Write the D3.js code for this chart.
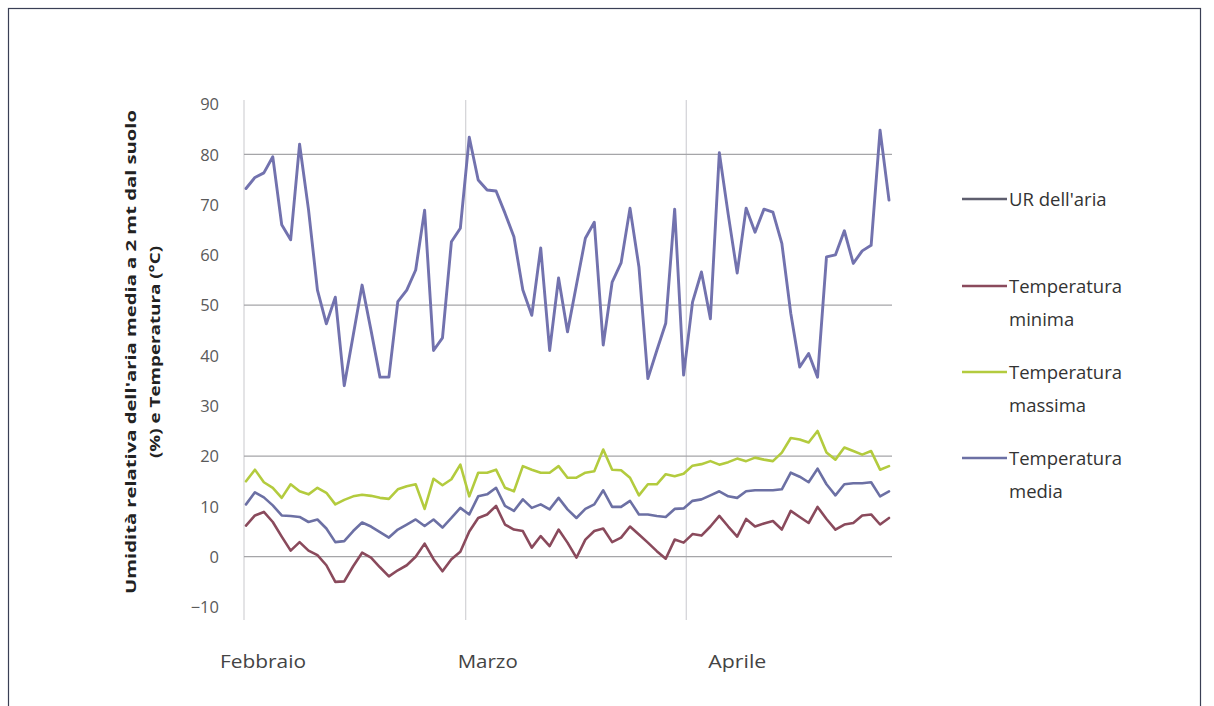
<!DOCTYPE html>
<html>
<head>
<meta charset="utf-8">
<script src="https://cdn.jsdelivr.net/npm/d3@7"></script>
<style>
  html, body { margin: 0; padding: 0; background: #fff; }
  svg { display: block; }
</style>
</head>
<body>
<svg id="chart" width="1214" height="706"></svg>
<script>
// Daily readings, one per observation
const urAria = [73.2,75.4,76.3,79.5,66,63,82,69,53,46.3,51.6,34,44,54,45,35.7,35.7,50.7,53,57,68.9,41,43.5,62.6,65.3,83.4,74.9,72.9,72.7,68.3,63.6,53,48,61.4,41,55.4,44.7,54,63.3,66.5,42.1,54.6,58.4,69.3,57.6,35.4,41,46.4,69.1,36.1,50.6,56.6,47.3,80.3,68,56.4,69.3,64.5,69.1,68.5,62.3,48.4,37.7,40.4,35.7,59.6,60,64.8,58.3,60.8,61.9,84.8,70.9];
const tempMin = [6.2,8.2,8.9,6.9,4,1.2,2.9,1.2,0.3,-1.7,-5,-4.9,-1.9,0.8,-0.2,-2.1,-3.9,-2.7,-1.7,0,2.6,-0.5,-2.9,-0.5,1,5,7.7,8.4,10.1,6.4,5.4,5.1,1.8,4.1,2.1,5.4,2.8,-0.2,3.4,5.1,5.6,2.9,3.8,6,4.4,2.8,1.1,-0.4,3.4,2.8,4.5,4.2,6,8.1,6,4,7.5,6,6.6,7.1,5.4,9.1,7.9,6.7,9.9,7.5,5.4,6.4,6.7,8.2,8.4,6.4,7.7];
const tempMax = [15,17.3,14.8,13.7,11.7,14.4,13,12.4,13.7,12.7,10.4,11.3,12,12.3,12.1,11.7,11.5,13.4,14,14.4,9.5,15.5,14.2,15.4,18.3,12,16.7,16.7,17.3,13.7,13,18,17.3,16.7,16.7,18,15.7,15.7,16.7,17,21.3,17.3,17.2,15.7,12.2,14.4,14.4,16.4,16,16.5,18.1,18.4,19,18.3,18.8,19.5,19,19.7,19.3,19,20.7,23.6,23.3,22.7,25,20.7,19.3,21.7,21,20.3,21,17.3,18];
const tempMedia = [10.4,12.8,11.8,10.2,8.2,8.1,7.9,6.9,7.4,5.6,2.9,3.1,5.1,6.8,6,4.9,3.8,5.4,6.4,7.4,6.1,7.4,5.8,7.7,9.7,8.4,12,12.4,13.7,10.1,9.1,11.4,9.7,10.4,9.4,11.7,9.4,7.7,9.5,10.4,13.2,9.9,9.9,11.1,8.4,8.4,8.1,7.9,9.5,9.6,11.1,11.4,12.2,13,12,11.7,13,13.2,13.2,13.2,13.4,16.7,15.9,14.8,17.5,14.4,12.2,14.4,14.6,14.6,14.8,12,13];

const monthLabels = ["Febbraio", "Marzo", "Aprile"];
const monthStart = [0, 24.6, 49.3];          // position on the observation index
const yTicks = [-10, 0, 10, 20, 30, 40, 50, 60, 70, 80, 90];
const yGrid = [0, 20, 50, 80];

const seriesNames = ["UR dell'aria", "Temperatura minima", "Temperatura massima", "Temperatura media"];
const seriesData = [urAria, tempMin, tempMax, tempMedia];
const seriesColors = ["#7272ae", "#8a4a5c", "#b3cb3e", "#6c70a4"];
const legendColors = ["#5e5e6e", "#8a4a5c", "#b3cb3e", "#6c70a4"];

const svg = d3.select("#chart");
const font = "'Open Sans', 'Noto Sans', sans-serif";

// outer frame
svg.append("rect").attr("x", 8.5).attr("y", 8.5).attr("width", 1192).attr("height", 720)
  .attr("fill", "#fff").attr("stroke", "#3a3f55").attr("stroke-width", 1.2);

const x = d3.scaleLinear().domain([0, urAria.length - 1]).range([246, 889]);
const y = d3.scaleLinear().domain([-10, 90]).range([607, 104]);

// vertical month gridlines
svg.append("g").selectAll("line").data(monthStart).join("line")
  .attr("x1", d => d === 0 ? 244 : x(d)).attr("x2", d => d === 0 ? 244 : x(d))
  .attr("y1", 100).attr("y2", 620)
  .attr("stroke", "#d2d2d6").attr("stroke-width", 1.2);

// horizontal gridlines
svg.append("g").selectAll("line").data(yGrid).join("line")
  .attr("x1", 244).attr("x2", 892)
  .attr("y1", d => y(d)).attr("y2", d => y(d))
  .attr("stroke", "#a5a5a8").attr("stroke-width", 1.3);

// y axis tick labels
const yAxis = d3.axisLeft(y).tickValues(yTicks).tickSize(0).tickPadding(0);
const gy = svg.append("g").attr("transform", "translate(219,0)").call(yAxis);
gy.select(".domain").remove();
gy.selectAll("text").attr("font-family", font).attr("font-size", 16.5)
  .attr("fill", "#5a5a5a").attr("dy", "0.35em");

// y axis title (two lines, rotated)
const title = svg.append("g").attr("transform", "translate(136,352) rotate(-90)");
title.append("text").attr("text-anchor", "middle").attr("x", 0).attr("y", 0)
  .attr("font-family", font).attr("font-weight", "bold").attr("font-size", 15).attr("fill", "#222")
  .attr("textLength", 484).attr("lengthAdjust", "spacingAndGlyphs")
  .text("Umidità relativa dell'aria media a 2 mt dal suolo");
title.append("text").attr("text-anchor", "middle").attr("x", 0).attr("y", 24)
  .attr("font-family", font).attr("font-weight", "bold").attr("font-size", 15).attr("fill", "#222")
  .attr("textLength", 212).attr("lengthAdjust", "spacingAndGlyphs")
  .text("(%) e Temperatura (°C)");

// month labels
const labelShift = [17, 22, 51];
const labelWidth = [86, 60, 58];
svg.append("g").selectAll("text").data(monthLabels).join("text")
  .attr("x", (d, i) => x(monthStart[i]) + labelShift[i])
  .attr("y", 668).attr("text-anchor", "middle")
  .attr("font-family", font).attr("font-size", 19).attr("fill", "#444")
  .attr("textLength", (d, i) => labelWidth[i]).attr("lengthAdjust", "spacingAndGlyphs")
  .text(d => d);

// series lines
const line = d3.line().x((d, i) => x(i)).y(d => y(d)).curve(d3.curveLinear);
const drawOrder = [2, 3, 1, 0];
drawOrder.forEach(k => {
  svg.append("path").datum(seriesData[k])
    .attr("d", line).attr("fill", "none")
    .attr("stroke", seriesColors[k]).attr("stroke-width", k === 0 ? 2.9 : 2.6)
    .attr("stroke-linejoin", "round").attr("stroke-linecap", "round");
});

// legend
const legendY = [199, 286, 372, 458];
const lg = svg.append("g");
seriesNames.forEach((name, i) => {
  lg.append("line").attr("x1", 962).attr("x2", 1007)
    .attr("y1", legendY[i]).attr("y2", legendY[i])
    .attr("stroke", legendColors[i]).attr("stroke-width", 2.6);
  const words = name.startsWith("Temperatura") ? ["Temperatura", name.split(" ")[1]] : [name];
  const t = lg.append("text").attr("font-family", font).attr("font-size", 18.5).attr("fill", "#333");
  words.forEach((w, j) => {
    t.append("tspan").attr("x", 1009).attr("y", legendY[i] + 7 + j * 33).text(w);
  });
});
</script>
</body>
</html>
